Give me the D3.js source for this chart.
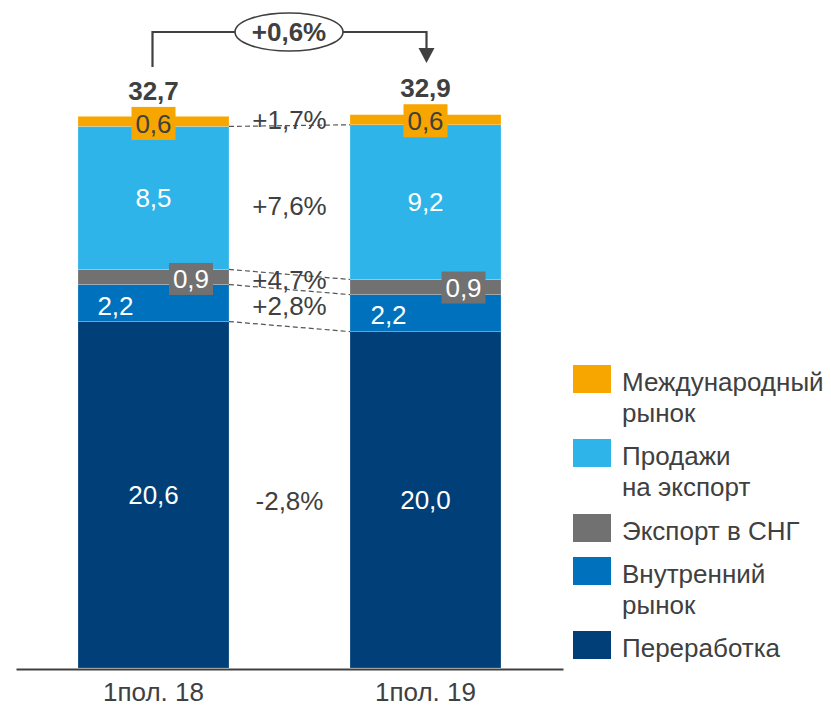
<!DOCTYPE html>
<html><head><meta charset="utf-8">
<script src="https://cdn.jsdelivr.net/npm/d3@7"></script>
<style>body{margin:0;background:#fff}svg{display:block;font-family:"Liberation Sans",Arial,sans-serif}</style>
</head><body><svg id="c" width="831" height="707"></svg>
<script>
const periods = ["1пол. 18", "1пол. 19"];
const seriesNames = ["Переработка", "Внутренний рынок", "Экспорт в СНГ", "Продажи на экспорт", "Международный рынок"];
const legendLines = [["Международный","рынок"],["Продажи","на экспорт"],["Экспорт в СНГ"],["Внутренний","рынок"],["Переработка"]];
const pererabotka = [20.6, 20.0];
const vnutrenniy = [2.2, 2.2];
const eksportSNG = [0.9, 0.9];
const prodazhiEksport = [8.5, 9.2];
const mezhdunarodny = [0.6, 0.6];
const totals = [32.7, 32.9];
const changes = ["-2,8%", "+2,8%", "+4,7%", "+7,6%", "+1,7%"];
const totalChange = "+0,6%";
const colors = ["#003F77", "#0071BC", "#717171", "#2FB4E9", "#F7A600"];

const svg = d3.select("#c");
const FS = 26;
const fmt = v => d3.format(".1f")(v).replace(".", ",");
const values = [pererabotka, vnutrenniy, eksportSNG, prodazhiEksport, mezhdunarodny];
const data = periods.map((p, i) => {
  const o = {period: p};
  seriesNames.forEach((s, k) => o[s] = values[k][i]);
  return o;
});
const stacked = d3.stack().keys(seriesNames)(data);

const x = d3.scaleBand().domain(periods).range([16, 563]).paddingInner(0.445).paddingOuter(0.228);
const y = d3.scaleLinear().domain([0, 33]).range([668, 113]);
const bw = x.bandwidth();

// bars
stacked.forEach((layer, k) => {
  svg.append("g").selectAll("rect").data(layer).join("rect")
    .attr("x", d => x(d.data.period))
    .attr("y", d => y(d[1]))
    .attr("width", bw)
    .attr("height", d => y(d[0]) - y(d[1]))
    .attr("fill", colors[k])
    .attr("stroke", "rgba(255,255,255,0.3)").attr("stroke-width", 0.6);
});

// axis
const axis = svg.append("g").attr("transform", "translate(0,669)")
  .call(d3.axisBottom(x).tickSize(0).tickPadding(14));
axis.select(".domain").attr("stroke", "#404040").attr("stroke-width", 2);
axis.selectAll("text").attr("font-size", FS).attr("fill", "#404040")
  .attr("font-family", "Liberation Sans, Arial, sans-serif");

// connector dashed lines between bars
const x1 = x(periods[0]) + bw, x2 = x(periods[1]);
[1, 2, 3, 4].forEach(k => {
  const yy1 = y(stacked[k][0][0]), yy2 = y(stacked[k][1][0]);
  svg.append("line").attr("x1", x1).attr("x2", x2).attr("y1", yy1).attr("y2", yy2)
    .attr("stroke", "#555").attr("stroke-width", 1.2).attr("stroke-dasharray", "5,3");
});

// segment labels
const cx = p => x(p) + bw / 2;
function segLabel(k, i, dx, dy, box, boxColor, textColor) {
  const d = stacked[k][i];
  const mx = cx(periods[i]) + dx;
  const my = (y(d[0]) + y(d[1])) / 2 + dy;
  if (box) {
    svg.append("rect").attr("x", mx - box[0] / 2).attr("y", my - box[1] / 2)
      .attr("width", box[0]).attr("height", box[1]).attr("fill", boxColor);
  }
  svg.append("text").attr("x", mx).attr("y", my).attr("dy", "0.36em")
    .attr("text-anchor", "middle").attr("font-size", FS).attr("fill", textColor)
    .text(fmt(values[k][i]));
}
periods.forEach((p, i) => {
  segLabel(0, i, 0, 0, null, null, "#fff");
  segLabel(1, i, i === 0 ? -38 : -37, i === 0 ? 3 : 2, null, null, "#fff");
  segLabel(2, i, i === 0 ? 37.5 : 38, i === 0 ? 2 : 0.5, [44, 32], colors[2], "#fff");
  segLabel(3, i, 0, 0, null, null, "#fff");
  segLabel(4, i, 0, i === 0 ? 2 : 1, [44, 33], colors[4], "#404040");
});

// totals
periods.forEach((p, i) => {
  svg.append("text").attr("x", cx(p)).attr("y", y(totals[i]) - 18)
    .attr("text-anchor", "middle").attr("font-size", FS).attr("font-weight", "bold")
    .attr("fill", "#404040").text(fmt(totals[i]));
});

// change labels in middle
const midX = (x1 + x2) / 2;
const changeY = [501, 306, 280, 206, 120];
changes.forEach((c, k) => {
  svg.append("text").attr("x", midX).attr("y", changeY[k]).attr("dy", "0.36em")
    .attr("text-anchor", "middle").attr("font-size", FS).attr("fill", "#404040").text(c);
});

// bracket arrow
const bx1 = cx(periods[0]) - 1, bx2 = cx(periods[1]) + 1, by = 32;
svg.append("path").attr("d", `M${bx1},67 V${by} H${bx2} V50`)
  .attr("fill", "none").attr("stroke", "#404040").attr("stroke-width", 2.2);
svg.append("path").attr("d", `M${bx2 - 8},48 H${bx2 + 8} L${bx2},63 Z`).attr("fill", "#404040");
svg.append("ellipse").attr("cx", 289).attr("cy", by).attr("rx", 54).attr("ry", 19)
  .attr("fill", "#fff").attr("stroke", "#404040").attr("stroke-width", 1.6);
svg.append("text").attr("x", 289).attr("y", by).attr("dy", "0.36em").attr("text-anchor", "middle")
  .attr("font-size", FS).attr("font-weight", "bold").attr("fill", "#404040").text(totalChange);

// legend
const legColors = colors.slice().reverse();
const legY = [365, 439, 514, 557, 631];
legendLines.forEach((lines, j) => {
  const g = svg.append("g");
  g.append("rect").attr("x", 573).attr("y", legY[j]).attr("width", 38).attr("height", 28).attr("fill", legColors[j]);
  lines.forEach((t, li) => {
    g.append("text").attr("x", 622).attr("y", legY[j] + 26 + li * 31)
      .attr("font-size", FS).attr("fill", "#404040").text(t);
  });
});
</script></body></html>
